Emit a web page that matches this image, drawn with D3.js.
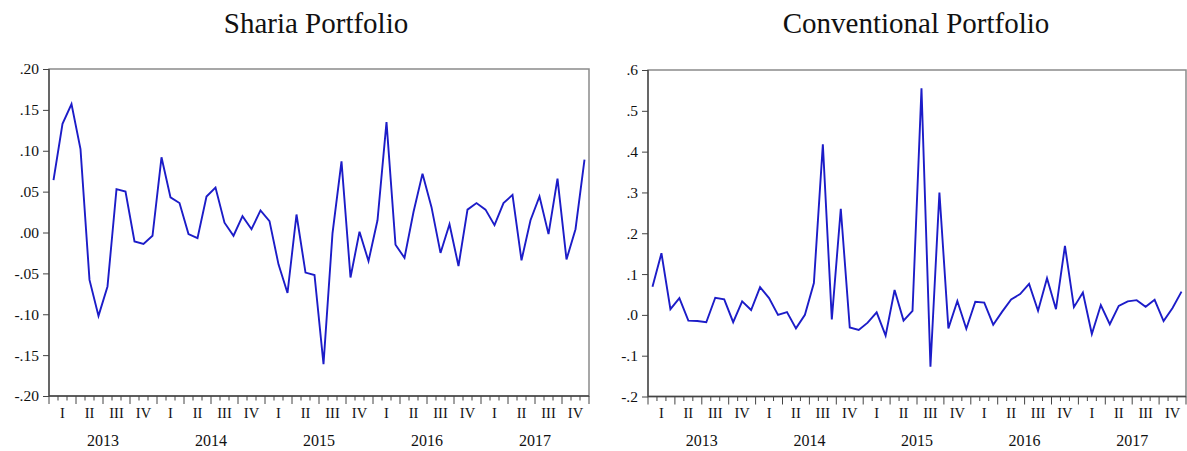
<!DOCTYPE html>
<html><head><meta charset="utf-8">
<script src="https://cdn.jsdelivr.net/npm/d3@7"></script>
<style>body{margin:0;background:#fff}svg{display:block}</style>
</head><body>
<svg id="c" width="1187" height="451"></svg>
<script>
const years = ["2013","2014","2015","2016","2017"];
const quarters = ["I","II","III","IV"];
const sharia = [0.064,0.133,0.157,0.102,-0.058,-0.102,-0.066,0.053,0.050,-0.011,-0.014,-0.004,
  0.092,0.043,0.036,-0.002,-0.007,0.044,0.055,0.012,-0.004,0.020,0.004,0.027,
  0.014,-0.039,-0.074,0.022,-0.049,-0.052,-0.161,-0.001,0.087,-0.055,0.001,-0.035,
  0.015,0.135,-0.015,-0.031,0.025,0.072,0.031,-0.025,0.010,-0.041,0.028,0.036,
  0.028,0.009,0.036,0.046,-0.034,0.015,0.044,-0.002,0.066,-0.033,0.004,0.089];
const conventional = [0.069,0.151,0.014,0.041,-0.014,-0.015,-0.018,0.042,0.038,-0.018,0.033,0.012,
  0.068,0.041,0.000,0.007,-0.033,0.000,0.078,0.418,-0.011,0.260,-0.031,-0.037,
  -0.019,0.006,-0.051,0.061,-0.014,0.010,0.555,-0.127,0.300,-0.033,0.034,-0.034,
  0.032,0.030,-0.024,0.008,0.038,0.051,0.076,0.010,0.090,0.014,0.169,0.019,
  0.055,-0.047,0.024,-0.023,0.022,0.033,0.036,0.020,0.037,-0.015,0.017,0.057];
const shariaTicks = [0.20,0.15,0.10,0.05,0.00,-0.05,-0.10,-0.15,-0.20];
const convTicks = [0.6,0.5,0.4,0.3,0.2,0.1,0.0,-0.1,-0.2];

const svg = d3.select("#c");
const font = "'Liberation Serif','Times New Roman',serif";

function fmt(v, dec){
  let s = Math.abs(v).toFixed(dec).replace(/^0/,"");
  return (v < -1e-9 ? "-" : "") + s;
}

function panel(opts){
  const {x0,x1,y0,y1,data,ticks,dec,title,titleX} = opts;
  const g = svg.append("g");
  const n = data.length;
  const x = d3.scaleLinear().domain([0,n]).range([x0,x1]);
  const y = d3.scaleLinear().domain([ticks[ticks.length-1],ticks[0]]).range([y1,y0]);

  g.append("text").attr("x",titleX).attr("y",33).attr("text-anchor","middle")
    .attr("font-family",font).attr("font-size",29).attr("fill","#111").text(title);

  g.append("rect").attr("x",x0).attr("y",y0).attr("width",x1-x0).attr("height",y1-y0)
    .attr("fill","none").attr("stroke","#8a8a8a").attr("stroke-width",1.5);
  g.append("line").attr("x1",x0).attr("x2",x0).attr("y1",y0).attr("y2",y1).attr("stroke","#444").attr("stroke-width",1.3);
  g.append("line").attr("x1",x0).attr("x2",x1).attr("y1",y1).attr("y2",y1).attr("stroke","#444").attr("stroke-width",1.3);

  const ya = d3.axisLeft(y).tickValues(ticks).tickSize(6).tickPadding(4).tickFormat(d=>fmt(d,dec));
  const yg = g.append("g").attr("transform",`translate(${x0},0)`).call(ya);
  yg.select(".domain").remove();
  yg.selectAll("line").attr("stroke","#444");
  yg.selectAll("text").attr("font-family",font).attr("font-size",15.5).attr("fill","#111");

  const months = d3.range(0,n+1);
  g.selectAll(".mt").data(months).enter().append("line")
    .attr("x1",d=>x(d)).attr("x2",d=>x(d)).attr("y1",y1)
    .attr("y2",d=>y1 + (d%3===0 ? 8 : 4.5)).attr("stroke","#444").attr("stroke-width",1);

  const qs = d3.range(0,n/3);
  g.selectAll(".ql").data(qs).enter().append("text")
    .attr("x",d=>x(d*3+1.5)).attr("y",418).attr("text-anchor","middle")
    .attr("font-family",font).attr("font-size",14.5).attr("fill","#111")
    .text(d=>quarters[d%4]);
  g.selectAll(".yl").data(years).enter().append("text")
    .attr("x",(d,i)=>x(i*12+6)).attr("y",446).attr("text-anchor","middle")
    .attr("font-family",font).attr("font-size",16).attr("fill","#111")
    .text(d=>d);

  const line = d3.line().x((d,i)=>x(i+0.5)).y(d=>y(d));
  g.append("path").datum(data).attr("d",line).attr("fill","none")
    .attr("stroke","#1c1cc8").attr("stroke-width",1.9).attr("stroke-linejoin","miter");
}

panel({x0:49,x1:589,y0:69,y1:396,data:sharia,ticks:shariaTicks,dec:2,title:"Sharia Portfolio",titleX:316});
panel({x0:648,x1:1186,y0:70,y1:396.5,data:conventional,ticks:convTicks,dec:1,title:"Conventional Portfolio",titleX:916});
</script>
</body></html>
